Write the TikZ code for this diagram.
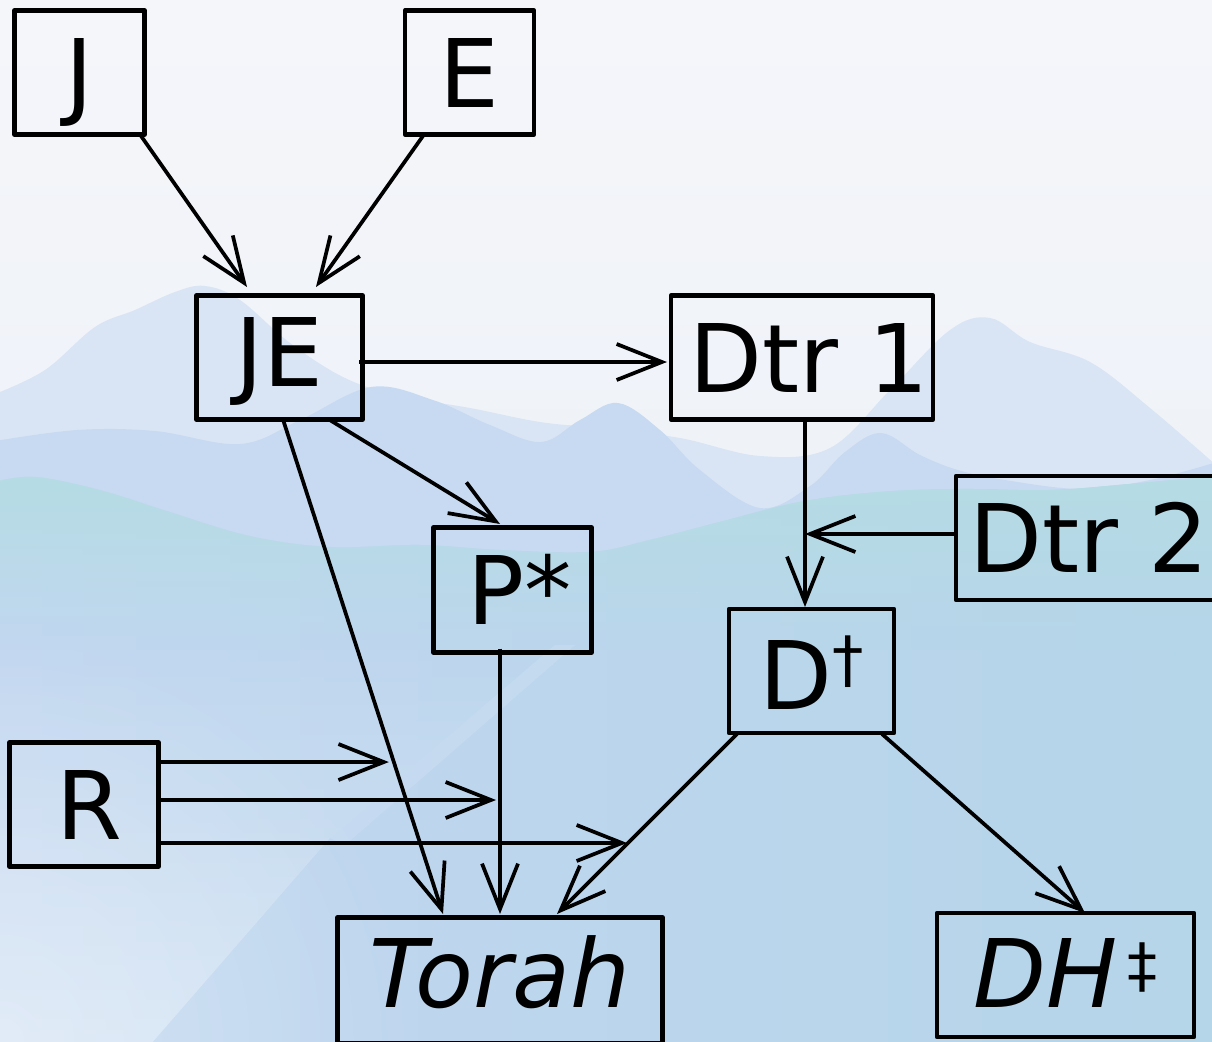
\documentclass[tikz,border=0pt]{standalone}
\usepackage{fontspec}
\setmainfont{DejaVu Sans}
\usetikzlibrary{arrows.meta,fadings}

\definecolor{skytop}{HTML}{F5F6FA}
\definecolor{skylow}{HTML}{EEF2F8}
\definecolor{farhill}{HTML}{D9E5F5}
\definecolor{midhill}{HTML}{C8DAF1}
\definecolor{nearteal}{HTML}{B5DCE4}
\definecolor{frontleft}{HTML}{C2D7F0}
\definecolor{frontright}{HTML}{B5D5E9}

\tikzfading[name=fadedown, top color=transparent!0, bottom color=transparent!100]
\tikzfading[name=fadeup, top color=transparent!100, bottom color=transparent!0]
\tikzfading[name=softspot, inner color=transparent!0, outer color=transparent!100]

\newcommand\supmark[3]{\raisebox{#1}{\fontsize{#2}{50}\selectfont #3}}

\begin{document}
\begin{tikzpicture}[x=0.75pt,y=-0.75pt,
  box/.style={draw=black, line width=3.6pt, line join=round, inner sep=0pt,
    outer sep=0pt, text height=51.8pt, text depth=0pt,
    font=\fontsize{71}{80}\selectfont},
  wh/.style 2 args={minimum width=#1*0.75pt, minimum height=#2*0.75pt},
  link/.style={draw=black, line width=2.8pt,
    -{Straight Barb[length=34pt,width=27pt]}}]

% frame of the picture
\path[use as bounding box, clip] (0,0) rectangle (1212,1041);

% sky and hills
\shade[top color=skytop, bottom color=skylow] (0,0) rectangle (1212,520);
\fill[farhill] plot[smooth, tension=0.6] coordinates {(-5,394) (45,370) (95,327) (135,310)
  (175,292) (205,286) (240,300) (290,343) (345,378) (400,396) (470,408) (540,422)
  (600,428) (680,438) (760,456) (830,448) (890,390) (950,330) (990,318) (1030,342)
  (1090,362) (1150,408) (1217,466)} -- (1217,1045) -- (-5,1045) -- cycle;
\fill[midhill] plot[smooth, tension=0.6] coordinates {(-5,441) (77,430) (155,431) (240,444)
  (300,420) (371,387) (433,400) (490,425) (541,442) (580,420) (618,403) (660,430)
  (700,470) (760,508) (810,486) (845,452) (881,433) (920,455) (958,470) (1005,480)
  (1082,489) (1150,480) (1217,462)} -- (1217,1045) -- (-5,1045) -- cycle;
% near hills: blue body with a teal crest that fades downwards
\shade[left color=frontleft, right color=frontright] plot[smooth, tension=0.6] coordinates {(-5,482)
  (35,477) (100,490) (170,512) (250,536) (330,547) (420,545) (500,550) (590,552)
  (650,540) (720,522) (800,502) (880,492) (960,489) (1050,490) (1130,484) (1217,476)}
  -- (1217,1045) -- (-5,1045) -- cycle;
\fill[nearteal, path fading=fadedown] plot[smooth, tension=0.6] coordinates {(-5,482)
  (35,477) (100,490) (170,512) (250,536) (330,547) (420,545) (500,550) (590,552)
  (650,540) (720,522) (800,502) (880,492) (960,489) (1050,490) (1130,484) (1217,476)}
  -- (1217,650) -- (-5,650) -- cycle;
% light wash in the lower left
\fill[white, opacity=0.32, path fading=fadeup] (-5,1045) -- (150,1045) -- (330,838)
  -- (555,645) -- (-5,645) -- cycle;
\fill[white, opacity=0.3, path fading=softspot] (0,1041) circle (420);
\fill[white, opacity=0.12] (330,838) -- (555,645) -- (575,645) -- (345,845) -- cycle;

% boxes
\node[box, wh={130}{124}] (J) at (79.5,72.5) {J};
\node[box, wh={129}{124}] (E) at (469.5,72.5) {E};
\node[box, wh={166}{124}, text depth=9pt] (JE) at (279.5,357.5) {JE};
\node[box, wh={262}{124}] (D1) at (802,357.5) {\kern10.5pt Dtr 1};
\node[box, wh={266}{124}] (D2) at (1089,538) {Dtr 2};
\node[box, wh={158}{125}] (P) at (512.5,590) {\kern10.5pt P*};
\node[box, wh={165}{124}, text height=57.8pt] (D) at (811.5,671) {D\supmark{21pt}{47}{†}};
\node[box, wh={149}{124}] (R) at (84,804.5) {\kern7.5pt R};
\node[box, wh={325}{126}, text depth=11.25pt] (T) at (500,980.5) {\itshape Torah};
\node[box, wh={257}{124}, text depth=3pt] (DH) at (1065.5,975) {{\itshape DH}\kern8pt\supmark{16pt}{45}{‡}};

% connector end points
\coordinate (jeT) at ([shift={(3.5,0)}]JE.south);
\coordinate (tJ) at ([shift={(-57,-3.5)}]T.north);
\coordinate (pB) at ([shift={(-12.5,-4)}]P.south);
\coordinate (tP) at ([shift={(0,-3.5)}]T.north);
\coordinate (dB) at ([shift={(8,1)}]D.south west);
\coordinate (tD) at ([shift={(57,-3.5)}]T.north);
\coordinate (d1B) at ([shift={(3,0)}]D1.south);
\coordinate (d2W) at ([shift={(0,-4)}]D2.west);
\coordinate (r1) at ([shift={(0,-42.5)}]R.east);
\coordinate (r2) at ([shift={(0,-4.5)}]R.east);
\coordinate (r3) at ([shift={(0,38.5)}]R.east);
\coordinate (r1far) at ([shift={(900,0)}]r1);
\coordinate (r3far) at ([shift={(900,0)}]r3);
\coordinate (x1) at (intersection of jeT--tJ and r1--r1far);
\coordinate (x3) at (intersection of dB--tD and r3--r3far);

% connectors
\draw[link] ([shift={(-4.5,0)}]J.south east) -- ([shift={(50.5,-8.5)}]JE.north west);
\draw[link] ([shift={(-45.5,0)}]E.south) -- ([shift={(-46.5,-8.5)}]JE.north east);
\draw[link] ([shift={(-3.5,4.5)}]JE.east) -- ([shift={(-4,4.5)}]D1.west);
\draw[link] ([shift={(49.5,0)}]JE.south) -- ([shift={(-12.5,-3.5)}]P.north);
\draw[link] (jeT) -- (tJ);
\draw[link] (pB) -- (tP);
\draw[link] (d1B) -- ([shift={(-6.5,-2)}]D.north);
\draw[link] (d2W) -- (d1B |- d2W);
\draw[link] (dB) -- (tD);
\draw[link] ([shift={(-12,1)}]D.south east) -- ([shift={(19.5,0)}]DH.north);
\draw[link] (r1) -- ([shift={(-5,0)}]x1);
\draw[link] (r2) -- ([shift={(-4,0)}]pB |- r2);
\draw[link] (r3) -- ([shift={(-1,0)}]x3);
\end{tikzpicture}
\end{document}
